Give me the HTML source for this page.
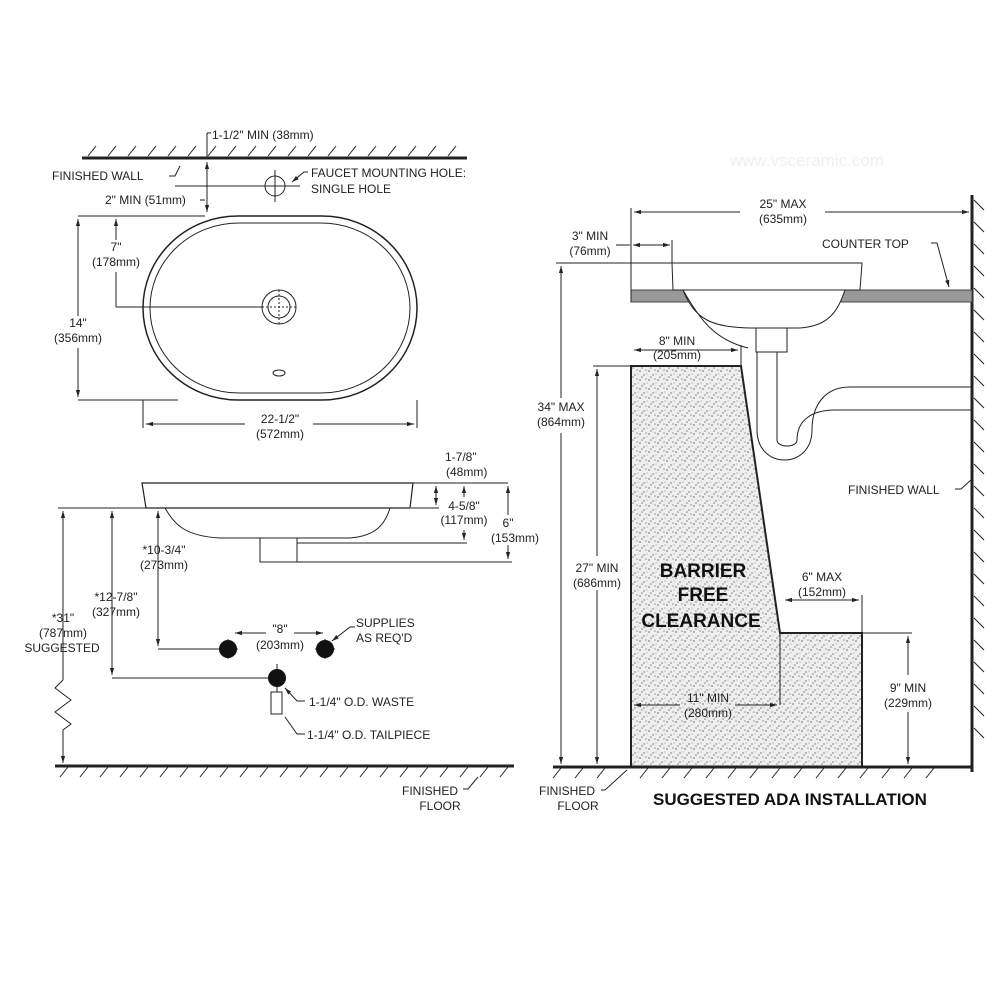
<!DOCTYPE html>
<html><head><meta charset="utf-8"><style>
html,body{margin:0;padding:0;background:#fff}
svg{display:block}
text{font-family:"Liberation Sans",Arial,sans-serif;font-size:12px;fill:#222}
.b{font-weight:bold;font-size:19px;fill:#111}
.t{font-weight:bold;font-size:17px;fill:#111}
</style></head><body>
<svg width="1000" height="1000" viewBox="0 0 1000 1000" xmlns="http://www.w3.org/2000/svg">
<defs>
<marker id="a" viewBox="0 0 10 10" refX="10" refY="5" markerWidth="7" markerHeight="7" orient="auto-start-reverse"><path d="M0,2 L10,5 L0,8 z" fill="#222"/></marker>
<pattern id="dots" width="9" height="9" patternUnits="userSpaceOnUse">
<rect width="9" height="9" fill="#eee"/>
<circle cx="1" cy="2" r="0.9" fill="#888"/><circle cx="5" cy="6" r="0.9" fill="#999"/><circle cx="7" cy="1" r="0.8" fill="#999"/><circle cx="3" cy="8" r="0.8" fill="#888"/><circle cx="8" cy="5" r="0.6" fill="#aaa"/>
</pattern>
</defs>
<g stroke="#222" fill="none" stroke-width="1">
<line x1="82" y1="158" x2="467" y2="158" stroke-width="3"/>
<path d="M88,156 l8,-10 M108,156 l8,-10 M128,156 l8,-10 M148,156 l8,-10 M168,156 l8,-10 M188,156 l8,-10 M208,156 l8,-10 M228,156 l8,-10 M248,156 l8,-10 M268,156 l8,-10 M288,156 l8,-10 M308,156 l8,-10 M328,156 l8,-10 M348,156 l8,-10 M368,156 l8,-10 M388,156 l8,-10 M408,156 l8,-10 M428,156 l8,-10 M448,156 l8,-10"/>
<path d="M169,176 l6,0 l5,-10"/>
<line x1="207" y1="133" x2="207" y2="158"/>
<path d="M207,133 h4"/>
<line x1="207" y1="162" x2="207" y2="212" marker-start="url(#a)" marker-end="url(#a)"/>
<path d="M200,200 h5"/>
<circle cx="275" cy="186" r="10"/>
<path d="M175,186 h125 M275,170 v32"/>
<path d="M308,172 l-4,0 l-12,10" marker-end="url(#a)"/>
<rect x="143" y="216" width="274" height="184" rx="95" ry="92" stroke-width="1.5"/>
<rect x="150" y="223" width="260" height="170" rx="89" ry="85"/>
<circle cx="279" cy="307" r="17"/><circle cx="279" cy="307" r="11"/>
<path d="M262,307 h34 M279,290 v34" stroke-dasharray="2,2"/>
<ellipse cx="279" cy="373" rx="6" ry="3"/>
<path d="M78,216 h127 M78,400 h100"/>
<line x1="78" y1="219" x2="78" y2="316" marker-start="url(#a)"/>
<line x1="78" y1="348" x2="78" y2="397" marker-end="url(#a)"/>
<line x1="116" y1="219" x2="116" y2="240" marker-start="url(#a)"/>
<line x1="116" y1="272" x2="116" y2="307"/>
<path d="M116,307 h146"/>
<path d="M143,400 v28 M417,400 v28"/>
<line x1="146" y1="424" x2="245" y2="424" marker-start="url(#a)"/>
<line x1="313" y1="424" x2="414" y2="424" marker-end="url(#a)"/>
<path d="M142,483 h271 l-3,25 H146 z" stroke-width="1.2"/>
<path d="M165,508 C175,525 185,536 220,538 L350,538 C375,536 385,525 390,508"/>
<path d="M260,538 v24 h37 v-24"/>
<path d="M413,483 h95 M411,508 h28 M297,543 h170 M297,562 h215"/>
<line x1="436" y1="486" x2="436" y2="505" marker-start="url(#a)" marker-end="url(#a)"/>
<line x1="464" y1="486" x2="464" y2="497" marker-start="url(#a)"/>
<line x1="464" y1="530" x2="464" y2="540" marker-end="url(#a)"/>
<line x1="508" y1="486" x2="508" y2="515" marker-start="url(#a)"/>
<line x1="508" y1="545" x2="508" y2="559" marker-end="url(#a)"/>
<path d="M146,508 H58"/>
<line x1="63" y1="511" x2="63" y2="680" marker-start="url(#a)"/>
<path d="M63,680 l-8,8 l16,12 l-16,12 l16,12 l-8,6 v8"/>
<line x1="63" y1="738" x2="63" y2="763" marker-end="url(#a)"/>
<line x1="112" y1="511" x2="112" y2="675" marker-start="url(#a)" marker-end="url(#a)"/>
<path d="M112,678 h165"/>
<line x1="158" y1="511" x2="158" y2="646" marker-start="url(#a)" marker-end="url(#a)"/>
<path d="M158,649 h70"/>
<path d="M218,649 h20 M228,639 v20 M315,649 h20 M325,639 v20 M277,664 v28"/>
<line x1="235" y1="633" x2="266" y2="633" marker-start="url(#a)"/>
<line x1="294" y1="633" x2="323" y2="633" marker-end="url(#a)"/>
<path d="M355,627 l-5,0 l-18,14" marker-end="url(#a)"/>
<rect x="271" y="692" width="11" height="22"/>
<path d="M305,701 l-8,0 l-12,-13" marker-end="url(#a)"/>
<path d="M305,734 l-8,0 l-12,-17"/>
<line x1="55" y1="766" x2="514" y2="766" stroke-width="3"/>
<path d="M60,777 l8,-10 M80,777 l8,-10 M100,777 l8,-10 M120,777 l8,-10 M140,777 l8,-10 M160,777 l8,-10 M180,777 l8,-10 M200,777 l8,-10 M220,777 l8,-10 M240,777 l8,-10 M260,777 l8,-10 M280,777 l8,-10 M300,777 l8,-10 M320,777 l8,-10 M340,777 l8,-10 M360,777 l8,-10 M380,777 l8,-10 M400,777 l8,-10 M420,777 l8,-10 M440,777 l8,-10 M460,777 l8,-10 M480,777 l8,-10 M500,777 l8,-10"/>
<path d="M463,789 l5,0 l10,-12"/>
<polygon points="631,366 741,366 780,633 862,633 862,767 631,767" fill="url(#dots)" stroke="none"/>
<path d="M631,767 V366 H741 L780,633 H862 V767" stroke-width="2"/>
<line x1="972" y1="195" x2="972" y2="772" stroke-width="3"/>
<path d="M974,200 l10,10 M974,222 l10,10 M974,244 l10,10 M974,266 l10,10 M974,288 l10,10 M974,310 l10,10 M974,332 l10,10 M974,354 l10,10 M974,376 l10,10 M974,398 l10,10 M974,420 l10,10 M974,442 l10,10 M974,464 l10,10 M974,486 l10,10 M974,508 l10,10 M974,530 l10,10 M974,552 l10,10 M974,574 l10,10 M974,596 l10,10 M974,618 l10,10 M974,640 l10,10 M974,662 l10,10 M974,684 l10,10 M974,706 l10,10 M974,728 l10,10"/>
<rect x="631" y="290" width="341" height="12" fill="#999" stroke="#444"/>
<path d="M672,263 H862 L860,290 H673 z" fill="#fff"/>
<path d="M683,290 C695,320 712,327 750,328 L800,328 C830,326 838,310 845,290 z" fill="#fff"/>
<path d="M683,290 C700,320 715,340 748,348"/>
<path d="M756,328 v24 h31 v-24"/>
<path d="M757,352 V430 C757,470 812,470 812,430 C812,405 825,387 850,387 H972"/>
<path d="M777,352 V440 C777,448 797,448 797,440 C797,420 812,410 835,410 H972"/>
<path d="M631,302 V208"/>
<path d="M672,263 V240"/>
<line x1="634" y1="212" x2="740" y2="212" marker-start="url(#a)"/>
<line x1="825" y1="212" x2="969" y2="212" marker-end="url(#a)"/>
<line x1="633" y1="245" x2="670" y2="245" marker-start="url(#a)" marker-end="url(#a)"/>
<path d="M616,245 h14"/>
<path d="M931,243 l6,0 l12,44" marker-end="url(#a)"/>
<path d="M556,263 H672"/>
<line x1="561" y1="266" x2="561" y2="398" marker-start="url(#a)"/>
<line x1="561" y1="433" x2="561" y2="764" marker-end="url(#a)"/>
<path d="M593,366 H631"/>
<line x1="597" y1="369" x2="597" y2="556" marker-start="url(#a)"/>
<line x1="597" y1="590" x2="597" y2="764" marker-end="url(#a)"/>
<path d="M741,366 V345"/>
<line x1="634" y1="350" x2="738" y2="350" marker-start="url(#a)" marker-end="url(#a)"/>
<path d="M862,633 V595 M862,633 H912"/>
<line x1="785" y1="600" x2="859" y2="600" marker-start="url(#a)" marker-end="url(#a)"/>
<line x1="908" y1="636" x2="908" y2="675" marker-start="url(#a)"/>
<line x1="908" y1="712" x2="908" y2="764" marker-end="url(#a)"/>
<path d="M780,633 V705"/>
<line x1="634" y1="705" x2="680" y2="705" marker-start="url(#a)"/>
<line x1="735" y1="705" x2="777" y2="705" marker-end="url(#a)"/>
<line x1="553" y1="767" x2="972" y2="767" stroke-width="3"/>
<path d="M553,778 l8,-10 M575,778 l8,-10 M597,778 l8,-10 M640,778 l8,-10 M662,778 l8,-10 M684,778 l8,-10 M706,778 l8,-10 M728,778 l8,-10 M750,778 l8,-10 M772,778 l8,-10 M794,778 l8,-10 M816,778 l8,-10 M838,778 l8,-10 M860,778 l8,-10 M882,778 l8,-10 M904,778 l8,-10 M926,778 l8,-10"/>
<path d="M601,790 l4,0 l22,-20"/>
<path d="M955,489 l6,0 l10,-9"/>
</g>
<g>
<text x="212" y="139">1-1/2" MIN (38mm)</text>
<text x="52" y="180">FINISHED WALL</text>
<text x="105" y="204">2" MIN (51mm)</text>
<text x="311" y="177">FAUCET MOUNTING HOLE:</text>
<text x="311" y="193">SINGLE HOLE</text>
<text x="116" y="251" text-anchor="middle">7"</text>
<text x="116" y="266" text-anchor="middle">(178mm)</text>
<text x="78" y="327" text-anchor="middle">14"</text>
<text x="78" y="342" text-anchor="middle">(356mm)</text>
<text x="280" y="423" text-anchor="middle">22-1/2"</text>
<text x="280" y="438" text-anchor="middle">(572mm)</text>
<text x="445" y="461">1-7/8"</text>
<text x="446" y="476">(48mm)</text>
<text x="464" y="510" text-anchor="middle">4-5/8"</text>
<text x="464" y="524" text-anchor="middle">(117mm)</text>
<text x="508" y="527" text-anchor="middle">6"</text>
<text x="515" y="542" text-anchor="middle">(153mm)</text>
<text x="164" y="554" text-anchor="middle">*10-3/4"</text>
<text x="164" y="569" text-anchor="middle">(273mm)</text>
<text x="116" y="601" text-anchor="middle">*12-7/8"</text>
<text x="116" y="616" text-anchor="middle">(327mm)</text>
<text x="63" y="622" text-anchor="middle">*31"</text>
<text x="63" y="637" text-anchor="middle">(787mm)</text>
<text x="62" y="652" text-anchor="middle">SUGGESTED</text>
<text x="280" y="633" text-anchor="middle">"8"</text>
<text x="280" y="649" text-anchor="middle">(203mm)</text>
<text x="356" y="627">SUPPLIES</text>
<text x="356" y="642">AS REQ'D</text>
<text x="309" y="706">1-1/4" O.D. WASTE</text>
<text x="307" y="739">1-1/4" O.D. TAILPIECE</text>
<text x="430" y="795" text-anchor="middle">FINISHED</text>
<text x="440" y="810" text-anchor="middle">FLOOR</text>
<text x="730" y="166" style="font-size:17px;fill:#f0f0f0">www.vsceramic.com</text>
<text x="783" y="208" text-anchor="middle">25" MAX</text>
<text x="783" y="223" text-anchor="middle">(635mm)</text>
<text x="590" y="240" text-anchor="middle">3" MIN</text>
<text x="590" y="255" text-anchor="middle">(76mm)</text>
<text x="822" y="248">COUNTER TOP</text>
<text x="677" y="345" text-anchor="middle">8" MIN</text>
<text x="677" y="359" text-anchor="middle">(205mm)</text>
<text x="561" y="411" text-anchor="middle">34" MAX</text>
<text x="561" y="426" text-anchor="middle">(864mm)</text>
<text x="848" y="494">FINISHED WALL</text>
<text x="597" y="572" text-anchor="middle">27" MIN</text>
<text x="597" y="587" text-anchor="middle">(686mm)</text>
<text class="b" x="703" y="577" text-anchor="middle">BARRIER</text>
<text class="b" x="703" y="601" text-anchor="middle">FREE</text>
<text class="b" x="701" y="627" text-anchor="middle">CLEARANCE</text>
<text x="822" y="581" text-anchor="middle">6" MAX</text>
<text x="822" y="596" text-anchor="middle">(152mm)</text>
<text x="908" y="692" text-anchor="middle">9" MIN</text>
<text x="908" y="707" text-anchor="middle">(229mm)</text>
<text x="708" y="702" text-anchor="middle">11" MIN</text>
<text x="708" y="717" text-anchor="middle">(280mm)</text>
<text x="567" y="795" text-anchor="middle">FINISHED</text>
<text x="578" y="810" text-anchor="middle">FLOOR</text>
<text class="t" x="790" y="805" text-anchor="middle">SUGGESTED ADA INSTALLATION</text>
</g>
<g fill="#111">
<circle cx="228" cy="649" r="9"/><circle cx="325" cy="649" r="9"/><circle cx="277" cy="678" r="9"/>
</g>
</svg>
</body></html>
